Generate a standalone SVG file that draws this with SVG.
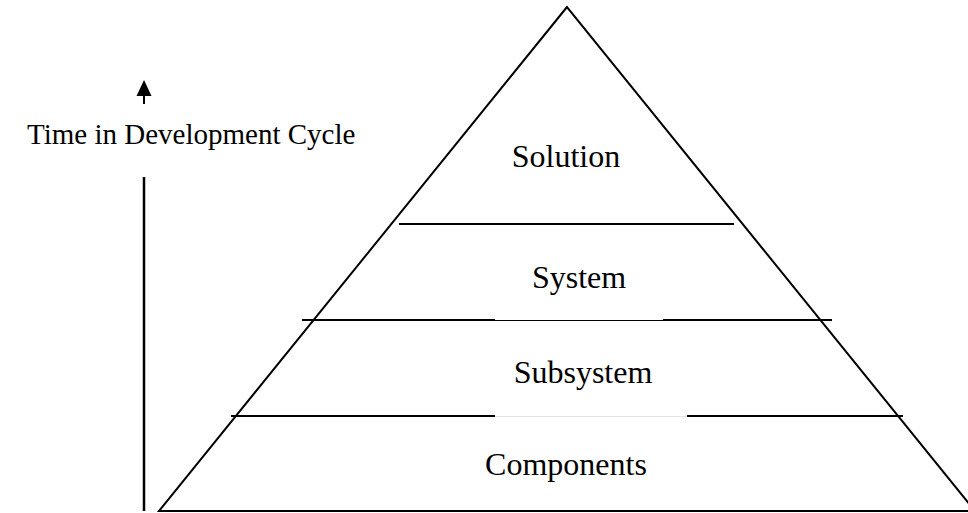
<svg xmlns="http://www.w3.org/2000/svg" width="968" height="513" viewBox="0 0 968 513">
<style>
.t{font-family:"Liberation Serif","Times New Roman",serif;fill:#000}
.n{font-size:32px;text-anchor:middle}
.thick{stroke:#000;stroke-width:2;fill:none}
.thin{stroke:#000;stroke-width:1;fill:none}
.faint{stroke:#e4e4e4;stroke-width:1;fill:none}
</style>
<rect width="968" height="513" fill="#fff"/>
<g id="connectors">
<polygon class="thick" points="567,7 159,511 975,511"/>
<line class="thick" x1="399" y1="224" x2="734" y2="224"/>
<line class="thick" x1="302" y1="320" x2="495" y2="320"/>
<line class="thin" x1="495" y1="320.5" x2="663" y2="320.5"/>
<line class="thick" x1="663" y1="320" x2="832" y2="320"/>
<line class="thick" x1="231" y1="416" x2="495" y2="416"/>
<line class="faint" x1="495" y1="416.5" x2="687" y2="416.5"/>
<line class="thick" x1="687" y1="416" x2="903" y2="416"/>
<line stroke="#000" stroke-width="2.5" x1="144" y1="177" x2="144" y2="511"/>
<line stroke="#000" stroke-width="2" x1="144" y1="95" x2="144" y2="104"/>
<polygon fill="#000" points="144,80 136.5,96 151.5,96"/>
</g>
<g id="axis-label"><text class="t" x="27" y="144" font-size="29">Time in Development Cycle</text></g>
<g id="solution"><text class="t n" x="566" y="167">Solution</text></g>
<g id="system"><text class="t n" x="579" y="288">System</text></g>
<g id="subsystem"><text class="t n" x="583" y="383">Subsystem</text></g>
<g id="components"><text class="t n" x="566" y="475">Components</text></g>
</svg>
